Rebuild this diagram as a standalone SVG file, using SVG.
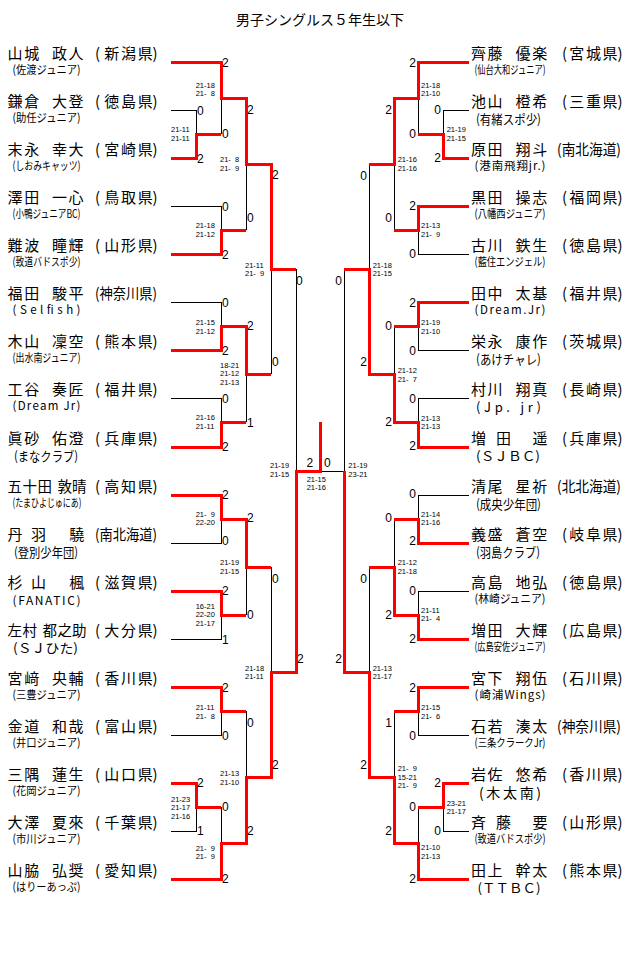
<svg xmlns="http://www.w3.org/2000/svg" width="640" height="957" viewBox="0 0 640 957">
<style>
text{font-family:"Noto Sans CJK JP","Noto Sans",sans-serif;fill:#000}
.t{font-size:14px}
.n{font-size:15px}
.n5{font-size:14.5px}
.c{font-size:11.5px}
.cl{font-size:13px}
.cm{font-size:12px}
.cb{font-size:14px}
.d{font-family:"Liberation Sans",Arial,sans-serif;font-size:12px}
.dr{font-family:"Liberation Sans",Arial,sans-serif;font-size:12px;text-anchor:end}
.s{font-family:"Liberation Sans",Arial,sans-serif;font-size:7.5px}
.k{stroke:#000;stroke-width:1;fill:none;shape-rendering:crispEdges}
.r{stroke:#f00;stroke-width:3;fill:none;shape-rendering:crispEdges}
</style>
<rect width="640" height="957" fill="#fff"/>
<text class="t" x="320" y="25" text-anchor="middle">男子シングルス５年生以下</text>

<!-- LEFT PLAYERS -->
<g id="L01"><text class="n" x="7.5 24.2 52 68.6" y="58.5">山城政人</text><text class="n" x="95 104.3 121 137.7 152.5" y="58.5">(新潟県)</text><text class="c" x="12.5" y="74" textLength="68" lengthAdjust="spacingAndGlyphs">(佐渡ジュニア)</text></g>
<g id="L02"><text class="n" x="7.5 24.2 52 68.6" y="106.5">鎌倉大登</text><text class="n" x="95 104.3 121 137.7 152.5" y="106.5">(徳島県)</text><text class="c" x="12.5" y="122" textLength="68" lengthAdjust="spacingAndGlyphs">(助任ジュニア)</text></g>
<g id="L03"><text class="n" x="7.5 24.2 52 68.6" y="154.5">末永幸大</text><text class="n" x="95 104.3 121 137.7 152.5" y="154.5">(宮崎県)</text><text class="c" x="12.5" y="170" textLength="68" lengthAdjust="spacingAndGlyphs">(しおみキャッツ)</text></g>
<g id="L04"><text class="n" x="7.5 24.2 52 68.6" y="202.5">澤田一心</text><text class="n" x="95 104.3 121 137.7 152.5" y="202.5">(鳥取県)</text><text class="c" x="12.5" y="218" textLength="68" lengthAdjust="spacingAndGlyphs">(小鴨ジュニアBC)</text></g>
<g id="L05"><text class="n" x="7.5 24.2 52 68.6" y="250.5">難波瞳輝</text><text class="n" x="95 104.3 121 137.7 152.5" y="250.5">(山形県)</text><text class="c" x="12.5" y="266" textLength="68" lengthAdjust="spacingAndGlyphs">(致道バドスポ少)</text></g>
<g id="L06"><text class="n" x="7.5 24.2 52 68.6" y="298.5">福田駿平</text><text class="n" x="95" y="298.5" textLength="62" lengthAdjust="spacingAndGlyphs">(神奈川県)</text><text class="c" x="12.5" y="314" textLength="68" lengthAdjust="spacing">(Selfish)</text></g>
<g id="L07"><text class="n" x="7.5 24.2 52 68.6" y="346.5">木山凜空</text><text class="n" x="95 104.3 121 137.7 152.5" y="346.5">(熊本県)</text><text class="c" x="12.5" y="362" textLength="68" lengthAdjust="spacingAndGlyphs">(出水南ジュニア)</text></g>
<g id="L08"><text class="n" x="7.5 24.2 52 68.6" y="394.5">工谷奏匠</text><text class="n" x="95 104.3 121 137.7 152.5" y="394.5">(福井県)</text><text class="c" x="12.5" y="410" textLength="68" lengthAdjust="spacing">(Dream Jr)</text></g>
<g id="L09"><text class="n" x="7.5 24.2 52 68.6" y="443.5">眞砂佑澄</text><text class="n" x="95 104.3 121 137.7 152.5" y="443.5">(兵庫県)</text><text class="cl" x="14" y="460.8" textLength="64" lengthAdjust="spacingAndGlyphs">(まなクラブ)</text></g>
<g id="L10"><text class="n5" x="7.5 22.5 37.5 57.5 72" y="491.5">五十田敦晴</text><text class="n" x="95 104.3 121 137.7 152.5" y="491.5">(高知県)</text><text class="c" x="12.5" y="507" textLength="69" lengthAdjust="spacingAndGlyphs">(たまひよじゅにあ)</text></g>
<g id="L11"><text class="n" x="7.5 31 69.3" y="539.5">丹羽驍</text><text class="n" x="95" y="539.5" textLength="62" lengthAdjust="spacingAndGlyphs">(南北海道)</text><text class="cl" x="14" y="556.8" textLength="64" lengthAdjust="spacingAndGlyphs">(登別少年団)</text></g>
<g id="L12"><text class="n" x="7.5 31 69.3" y="587.5">杉山楓</text><text class="n" x="95 104.3 121 137.7 152.5" y="587.5">(滋賀県)</text><text class="cm" x="12.5" y="604.5" textLength="68" lengthAdjust="spacing">(FANATIC)</text></g>
<g id="L13"><text class="n5" x="7.5 22.5 42.5 57.5 72" y="635.5">左村都之助</text><text class="n" x="95 104.3 121 137.7 152.5" y="635.5">(大分県)</text><text class="cl" x="13" y="652.8" textLength="65" lengthAdjust="spacingAndGlyphs">(ＳＪひた)</text></g>
<g id="L14"><text class="n" x="7.5 24.2 52 68.6" y="683.5">宮﨑央輔</text><text class="n" x="95 104.3 121 137.7 152.5" y="683.5">(香川県)</text><text class="c" x="12.5" y="699" textLength="68" lengthAdjust="spacingAndGlyphs">(三豊ジュニア)</text></g>
<g id="L15"><text class="n" x="7.5 24.2 52 68.6" y="731.5">金道和哉</text><text class="n" x="95 104.3 121 137.7 152.5" y="731.5">(富山県)</text><text class="c" x="12.5" y="747" textLength="68" lengthAdjust="spacingAndGlyphs">(井口ジュニア)</text></g>
<g id="L16"><text class="n" x="7.5 24.2 52 68.6" y="779.5">三隅蓮生</text><text class="n" x="95 104.3 121 137.7 152.5" y="779.5">(山口県)</text><text class="c" x="12.5" y="795" textLength="68" lengthAdjust="spacingAndGlyphs">(花岡ジュニア)</text></g>
<g id="L17"><text class="n" x="7.5 24.2 52 68.6" y="827.5">大澤夏來</text><text class="n" x="95 104.3 121 137.7 152.5" y="827.5">(千葉県)</text><text class="c" x="12.5" y="843" textLength="68" lengthAdjust="spacingAndGlyphs">(市川ジュニア)</text></g>
<g id="L18"><text class="n" x="7.5 24.2 52 68.6" y="875.5">山脇弘奨</text><text class="n" x="95 104.3 121 137.7 152.5" y="875.5">(愛知県)</text><text class="c" x="12.5" y="891" textLength="68" lengthAdjust="spacingAndGlyphs">(はりーあっぷ)</text></g>

<!-- RIGHT PLAYERS -->
<g id="R01"><text class="n" x="471 487.6 515.5 532.3" y="58.5">齊藤優楽</text><text class="n" x="562 569.3 586 602.6 617.5" y="58.5">(宮城県)</text><text class="c" x="474.5" y="74" textLength="71" lengthAdjust="spacingAndGlyphs">(仙台大和ジュニア)</text></g>
<g id="R02"><text class="n" x="471 487.6 515.5 532.3" y="106.5">池山橙希</text><text class="n" x="562 569.3 586 602.6 617.5" y="106.5">(三重県)</text><text class="cl" x="476" y="123.8" textLength="65" lengthAdjust="spacingAndGlyphs">(有緒スポ少)</text></g>
<g id="R03"><text class="n" x="471 487.6 515.5 532.3" y="154.5">原田翔斗</text><text class="n" x="557" y="154.5" textLength="64" lengthAdjust="spacingAndGlyphs">(南北海道)</text><text class="c" x="474.5" y="170" textLength="71" lengthAdjust="spacing">(港南飛翔jr.)</text></g>
<g id="R04"><text class="n" x="471 487.6 515.5 532.3" y="202.5">黒田操志</text><text class="n" x="562 569.3 586 602.6 617.5" y="202.5">(福岡県)</text><text class="c" x="474.5" y="218" textLength="71" lengthAdjust="spacingAndGlyphs">(八幡西ジュニア)</text></g>
<g id="R05"><text class="n" x="471 487.6 515.5 532.3" y="250.5">古川鉄生</text><text class="n" x="562 569.3 586 602.6 617.5" y="250.5">(徳島県)</text><text class="c" x="474.5" y="266" textLength="71" lengthAdjust="spacingAndGlyphs">(藍住エンジェル)</text></g>
<g id="R06"><text class="n" x="471 487.6 515.5 532.3" y="298.5">田中太基</text><text class="n" x="562 569.3 586 602.6 617.5" y="298.5">(福井県)</text><text class="c" x="474.5" y="314" textLength="71" lengthAdjust="spacing">(Dream.Jr)</text></g>
<g id="R07"><text class="n" x="471 487.6 515.5 532.3" y="346.5">栄永康作</text><text class="n" x="562 569.3 586 602.6 617.5" y="346.5">(茨城県)</text><text class="cl" x="476" y="363.8" textLength="65" lengthAdjust="spacingAndGlyphs">(あけチャレ)</text></g>
<g id="R08"><text class="n" x="471 487.6 515.5 532.3" y="394.5">村川翔真</text><text class="n" x="562 569.3 586 602.6 617.5" y="394.5">(長崎県)</text><text class="cl" x="476" y="411.8" textLength="65" lengthAdjust="spacing">(Jp. jr)</text></g>
<g id="R09"><text class="n" x="471 496 532.6" y="443.5">増田遥</text><text class="n" x="562 569.3 586 602.6 617.5" y="443.5">(兵庫県)</text><text class="cl" x="476" y="460.8" textLength="64" lengthAdjust="spacingAndGlyphs">(ＳＪＢＣ)</text></g>
<g id="R10"><text class="n" x="471 487.6 515.5 532.3" y="491.5">清尾星祈</text><text class="n" x="557" y="491.5" textLength="64" lengthAdjust="spacingAndGlyphs">(北北海道)</text><text class="cl" x="476" y="508.8" textLength="65" lengthAdjust="spacingAndGlyphs">(成央少年団)</text></g>
<g id="R11"><text class="n" x="471 487.6 515.5 532.3" y="539.5">義盛蒼空</text><text class="n" x="562 569.3 586 602.6 617.5" y="539.5">(岐阜県)</text><text class="cl" x="476" y="556.8" textLength="64" lengthAdjust="spacingAndGlyphs">(羽島クラブ)</text></g>
<g id="R12"><text class="n" x="471 487.6 515.5 532.3" y="587.5">高島地弘</text><text class="n" x="562 569.3 586 602.6 617.5" y="587.5">(徳島県)</text><text class="c" x="474.5" y="603" textLength="71" lengthAdjust="spacingAndGlyphs">(林崎ジュニア)</text></g>
<g id="R13"><text class="n" x="471 487.6 515.5 532.3" y="635.5">増田大輝</text><text class="n" x="562 569.3 586 602.6 617.5" y="635.5">(広島県)</text><text class="c" x="474.5" y="651" textLength="71" lengthAdjust="spacingAndGlyphs">(広島安佐ジュニア)</text></g>
<g id="R14"><text class="n" x="471 487.6 515.5 532.3" y="683.5">宮下翔伍</text><text class="n" x="562 569.3 586 602.6 617.5" y="683.5">(石川県)</text><text class="c" x="474.5" y="699" textLength="71" lengthAdjust="spacing">(崎浦Wings)</text></g>
<g id="R15"><text class="n" x="471 487.6 515.5 532.3" y="731.5">石若湊太</text><text class="n" x="557" y="731.5" textLength="64" lengthAdjust="spacingAndGlyphs">(神奈川県)</text><text class="c" x="474.5" y="747" textLength="71" lengthAdjust="spacingAndGlyphs">(三条クラークJr)</text></g>
<g id="R16"><text class="n" x="471 487.6 515.5 532.3" y="779.5">岩佐悠希</text><text class="n" x="562 569.3 586 602.6 617.5" y="779.5">(香川県)</text><text class="cb" x="479" y="798" textLength="62" lengthAdjust="spacing">(木太南)</text></g>
<g id="R17"><text class="n" x="471 496 532.6" y="827.5">斉藤要</text><text class="n" x="562 569.3 586 602.6 617.5" y="827.5">(山形県)</text><text class="c" x="474.5" y="843" textLength="71" lengthAdjust="spacingAndGlyphs">(致道バドスポ少)</text></g>
<g id="R18"><text class="n" x="471 487.6 515.5 532.3" y="875.5">田上幹太</text><text class="n" x="562 569.3 586 602.6 617.5" y="875.5">(熊本県)</text><text class="cl" x="477.5" y="893" textLength="63" lengthAdjust="spacingAndGlyphs">(ＴＴＢＣ)</text></g>

<!-- CONNECTORS -->
<g id="connectors">
<path class="k" d="M171 110H196V134M171 206H221V230M171 302H221V326M171 398H221V422M171 543H221V519M171 639H221V615M171 735H221V711M171 831H196V807M221 98V134M246 164V230M246 374V422M271 269V374M296 269V471M246 567V615M271 567V672M246 711V777M221 807V843"/>
<path class="k" d="M469 110H443V134M469 254H418V230M469 350H418V326M469 398H418V422M469 495H418V519M469 591H418V615M469 735H418V711M469 831H443V807M418 98V134M394 164V230M394 326V374M369 164V269M344 269V471M394 519V567M369 567V672M394 711V777M418 807V843M320 471H344"/>
<path class="r" d="M171 62H221V98H246V164H271V269H296"/>
<path class="r" d="M171 158H196V134H221"/>
<path class="r" d="M171 254H221V230H246"/>
<path class="r" d="M171 350H221V326H246V374H271"/>
<path class="r" d="M171 447H221V422H246"/>
<path class="r" d="M171 495H221V519H246V567H271"/>
<path class="r" d="M171 591H221V615H246"/>
<path class="r" d="M171 687H221V711H246"/>
<path class="r" d="M171 783H196V807H221"/>
<path class="r" d="M171 879H221V843H246V777H271V672H296V471H320V422"/>
<path class="r" d="M469 62H418V98H394V164H369"/>
<path class="r" d="M469 158H443V134H418"/>
<path class="r" d="M469 206H418V230H394"/>
<path class="r" d="M469 302H418V326H394"/>
<path class="r" d="M469 447H418V422H394V374H369V269H344"/>
<path class="r" d="M469 543H418V519H394"/>
<path class="r" d="M469 639H418V615H394V567H369"/>
<path class="r" d="M469 687H418V711H394"/>
<path class="r" d="M469 783H443V807H418"/>
<path class="r" d="M469 879H418V843H394V777H369V672H344V471"/>
</g>

<!-- GAME COUNTS -->
<g id="counts">
<text class="d" x="222" y="67">2</text><text class="d" x="197" y="114.5">0</text><text class="d" x="197" y="162.5">2</text><text class="d" x="222" y="138">0</text><text class="d" x="247" y="113.5">2</text><text class="d" x="222" y="210.5">0</text><text class="d" x="222" y="258.5">2</text><text class="d" x="247" y="222">0</text><text class="d" x="272" y="179">2</text><text class="d" x="222" y="306.5">0</text><text class="d" x="222" y="355">2</text><text class="d" x="247" y="330">2</text><text class="d" x="222" y="403">0</text><text class="d" x="222" y="451">2</text><text class="d" x="247" y="426.5">1</text><text class="d" x="272" y="366">0</text><text class="d" x="296" y="285">0</text><text class="d" x="306.5" y="467">2</text>
<text class="d" x="222" y="499">2</text><text class="d" x="247" y="522">2</text><text class="d" x="222" y="545">0</text><text class="d" x="272" y="583">0</text><text class="d" x="222" y="594.5">2</text><text class="d" x="247" y="618.5">0</text><text class="d" x="222" y="643.5">1</text><text class="d" x="297" y="663">2</text><text class="d" x="222" y="692">2</text><text class="d" x="247" y="727">0</text><text class="d" x="222" y="739.5">0</text><text class="d" x="272" y="768.5">2</text><text class="d" x="197" y="787">2</text><text class="d" x="222" y="811">0</text><text class="d" x="197" y="834.5">1</text><text class="d" x="247" y="834.5">2</text><text class="d" x="222" y="883">2</text>
<text class="dr" x="416" y="66.7">2</text><text class="dr" x="392" y="114">2</text><text class="dr" x="441" y="114">0</text><text class="dr" x="416" y="137.5">0</text><text class="dr" x="441" y="162">2</text><text class="dr" x="367" y="180">0</text><text class="dr" x="416" y="210">2</text><text class="dr" x="392" y="222">0</text><text class="dr" x="416" y="258">0</text><text class="dr" x="342" y="285">0</text><text class="dr" x="416" y="306.7">2</text><text class="dr" x="392" y="330">0</text><text class="dr" x="416" y="354.5">0</text><text class="dr" x="367" y="366">2</text><text class="dr" x="416" y="403">0</text><text class="dr" x="392" y="426">2</text><text class="dr" x="416" y="450">2</text><text class="d" x="324" y="467">0</text>
<text class="dr" x="416" y="498">0</text><text class="dr" x="392" y="522">0</text><text class="dr" x="416" y="545">2</text><text class="dr" x="367" y="583">0</text><text class="dr" x="416" y="594.5">0</text><text class="dr" x="392" y="618.5">2</text><text class="dr" x="416" y="643">2</text><text class="dr" x="342" y="663">2</text><text class="dr" x="416" y="692">2</text><text class="dr" x="392" y="727">1</text><text class="dr" x="416" y="739.5">0</text><text class="dr" x="367" y="768.5">2</text><text class="dr" x="441" y="787">2</text><text class="dr" x="416" y="811">0</text><text class="dr" x="441" y="834.5">0</text><text class="dr" x="392" y="834.5">2</text><text class="dr" x="416" y="883">2</text>
</g>

<!-- SET SCORES -->
<g id="scores">
<text class="s" x="195.7" y="87.7">21-18<tspan x="195.7" dy="8.5">21-&#x2007;8</tspan></text>
<text class="s" x="171" y="132.3">21-11<tspan x="171" dy="8.5">21-11</tspan></text>
<text class="s" x="220" y="162.3">21-&#x2007;8<tspan x="220" dy="8.5">21-&#x2007;9</tspan></text>
<text class="s" x="195.7" y="228.3">21-18<tspan x="195.7" dy="8.5">21-12</tspan></text>
<text class="s" x="245" y="267.7">21-11<tspan x="245" dy="8.5">21-&#x2007;9</tspan></text>
<text class="s" x="195.7" y="325">21-15<tspan x="195.7" dy="8.5">21-12</tspan></text>
<text class="s" x="220" y="367.7">18-21<tspan x="220" dy="8.5">21-12</tspan><tspan x="220" dy="8.5">21-13</tspan></text>
<text class="s" x="195.7" y="420">21-16<tspan x="195.7" dy="8.5">21-11</tspan></text>
<text class="s" x="270" y="468">21-19<tspan x="270" dy="8.5">21-15</tspan></text>
<text class="s" x="195.7" y="516.7">21-&#x2007;9<tspan x="195.7" dy="8.5">22-20</tspan></text>
<text class="s" x="220" y="565">21-19<tspan x="220" dy="8.5">21-15</tspan></text>
<text class="s" x="195.7" y="608.7">16-21<tspan x="195.7" dy="8.5">22-20</tspan><tspan x="195.7" dy="8.5">21-17</tspan></text>
<text class="s" x="245" y="670.7">21-18<tspan x="245" dy="8.5">21-11</tspan></text>
<text class="s" x="195.7" y="710">21-11<tspan x="195.7" dy="8.5">21-&#x2007;8</tspan></text>
<text class="s" x="220" y="776">21-13<tspan x="220" dy="8.5">21-10</tspan></text>
<text class="s" x="171" y="801.7">21-23<tspan x="171" dy="8.5">21-17</tspan><tspan x="171" dy="8.5">21-16</tspan></text>
<text class="s" x="195.7" y="850.7">21-&#x2007;9<tspan x="195.7" dy="8.5">21-&#x2007;9</tspan></text>
<text class="s" x="306.7" y="481.7">21-15<tspan x="306.7" dy="8.5">21-16</tspan></text>
<text class="s" x="421" y="87.7">21-18<tspan x="421" dy="8.5">21-10</tspan></text>
<text class="s" x="446.7" y="132.3">21-19<tspan x="446.7" dy="8.5">21-15</tspan></text>
<text class="s" x="397.7" y="162.3">21-16<tspan x="397.7" dy="8.5">21-16</tspan></text>
<text class="s" x="421" y="228.3">21-13<tspan x="421" dy="8.5">21-&#x2007;9</tspan></text>
<text class="s" x="372.7" y="267.7">21-18<tspan x="372.7" dy="8.5">21-15</tspan></text>
<text class="s" x="421" y="325">21-19<tspan x="421" dy="8.5">21-10</tspan></text>
<text class="s" x="397.7" y="373">21-12<tspan x="397.7" dy="8.5">21-&#x2007;7</tspan></text>
<text class="s" x="421" y="420.7">21-13<tspan x="421" dy="8.5">21-13</tspan></text>
<text class="s" x="348.3" y="468">21-19<tspan x="348.3" dy="8.5">23-21</tspan></text>
<text class="s" x="421" y="516.7">21-14<tspan x="421" dy="8.5">21-16</tspan></text>
<text class="s" x="397.7" y="565">21-12<tspan x="397.7" dy="8.5">21-18</tspan></text>
<text class="s" x="421" y="612.7">21-11<tspan x="421" dy="8.5">21-&#x2007;4</tspan></text>
<text class="s" x="372.7" y="670.7">21-13<tspan x="372.7" dy="8.5">21-17</tspan></text>
<text class="s" x="421" y="710">21-15<tspan x="421" dy="8.5">21-&#x2007;6</tspan></text>
<text class="s" x="397.7" y="771">21-&#x2007;9<tspan x="397.7" dy="8.5">15-21</tspan><tspan x="397.7" dy="8.5">21-&#x2007;9</tspan></text>
<text class="s" x="446.7" y="805.7">23-21<tspan x="446.7" dy="8.5">21-17</tspan></text>
<text class="s" x="421" y="850">21-10<tspan x="421" dy="8.5">21-13</tspan></text>
</g>
</svg>
